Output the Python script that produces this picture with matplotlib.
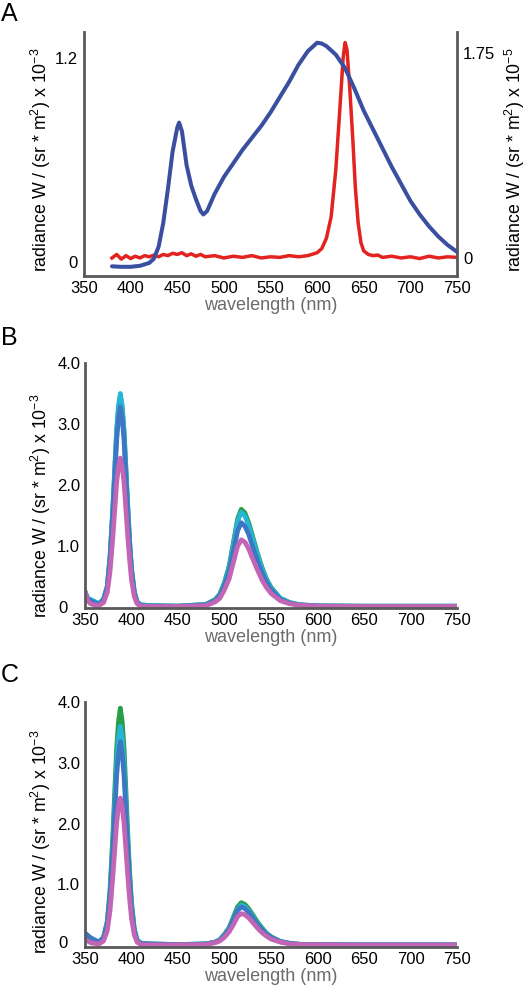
import matplotlib
matplotlib.use("Agg")
import matplotlib.pyplot as plt
from matplotlib.transforms import ScaledTranslation

plt.rcParams['font.family'] = ['Liberation Sans', 'DejaVu Sans']
plt.rcParams['mathtext.default'] = 'regular'

# ---------------- data ----------------
x_ticks = [350, 400, 450, 500, 550, 600, 650, 700, 750]

# Panel A, blue lamp (left axis, x10^-3)
wl_a_blue = [380, 390, 400, 410, 420, 425, 430, 435, 440, 445, 450, 452, 455, 460, 465, 470, 475,
             478, 482, 490, 500, 510, 520, 530, 540, 550, 560, 570, 580, 590, 600, 605, 610, 620,
             630, 640, 650, 660, 670, 680, 690, 700, 710, 720, 730, 740, 750]
rad_a_blue = [-0.025, -0.028, -0.028, -0.022, -0.005, 0.02, 0.09, 0.23, 0.43, 0.65, 0.79, 0.82, 0.77,
              0.57, 0.45, 0.37, 0.30, 0.28, 0.30, 0.40, 0.50, 0.58, 0.66, 0.73, 0.80, 0.88, 0.97,
              1.06, 1.16, 1.24, 1.29, 1.285, 1.27, 1.22, 1.14, 1.02, 0.89, 0.78, 0.67, 0.56, 0.46,
              0.36, 0.28, 0.21, 0.15, 0.10, 0.06]

# Panel A, red lamp (right axis, x10^-5)
wl_a_red = [380, 385, 390, 395, 400, 405, 410, 415, 420, 425, 430, 435, 440, 445, 450, 455, 460,
            465, 470, 475, 480, 490, 500, 510, 520, 530, 540, 550, 560, 570, 580, 590, 600, 605,
            610, 615, 620, 625, 628, 630, 632, 635, 638, 641, 644, 647, 650, 655, 660, 665, 670,
            680, 690, 700, 710, 720, 730, 740, 750]
rad_a_red = [0.0, 0.03, -0.01, 0.02, -0.005, 0.015, 0.0, 0.02, 0.01, 0.025, 0.01, 0.03, 0.02, 0.04,
             0.03, 0.045, 0.02, 0.035, 0.015, 0.03, 0.01, 0.02, 0.0, 0.015, 0.005, 0.02, 0.0, 0.01,
             0.005, 0.02, 0.01, 0.02, 0.045, 0.08, 0.17, 0.35, 0.75, 1.35, 1.72, 1.84, 1.78, 1.45,
             1.05, 0.60, 0.30, 0.13, 0.06, 0.03, 0.02, 0.025, 0.005, 0.015, 0.0, 0.01, -0.005,
             0.015, 0.0, 0.01, 0.005]

# Panels B and C share wavelength grid
wl_bc = [350, 353, 356, 360, 365, 370, 374, 377, 380, 382, 384, 386, 388, 390, 392, 394, 396, 398,
         400, 403, 406, 410, 420, 450, 480, 490, 495, 500, 505, 510, 514, 518, 522, 526, 530, 535,
         540, 545, 550, 560, 570, 580, 600, 650, 700, 750]

b_green = [0.24, 0.13, 0.11, 0.08, 0.05, 0.12, 0.34, 0.83, 1.62, 2.24, 2.86, 3.25, 3.45, 3.25, 2.86,
           2.24, 1.62, 1.07, 0.62, 0.24, 0.08, 0.03, 0.02, 0.01, 0.04, 0.12, 0.21, 0.40, 0.67, 1.09,
           1.44, 1.60, 1.54, 1.38, 1.17, 0.90, 0.66, 0.46, 0.32, 0.14, 0.07, 0.035, 0.015, 0.01,
           0.01, 0.01]
b_cyan = [0.25, 0.14, 0.12, 0.09, 0.05, 0.13, 0.34, 0.84, 1.65, 2.28, 2.90, 3.30, 3.50, 3.30, 2.90,
          2.28, 1.65, 1.08, 0.63, 0.25, 0.08, 0.03, 0.02, 0.01, 0.04, 0.11, 0.20, 0.39, 0.65, 1.05,
          1.40, 1.55, 1.49, 1.33, 1.13, 0.87, 0.64, 0.45, 0.31, 0.14, 0.07, 0.035, 0.015, 0.01,
          0.01, 0.01]
b_blue = [0.22, 0.12, 0.10, 0.07, 0.04, 0.11, 0.32, 0.79, 1.54, 2.13, 2.72, 3.10, 3.28, 3.10, 2.72,
          2.13, 1.54, 1.00, 0.59, 0.23, 0.07, 0.02, 0.01, 0.01, 0.03, 0.10, 0.18, 0.35, 0.58, 0.94,
          1.24, 1.38, 1.32, 1.19, 1.00, 0.77, 0.57, 0.40, 0.28, 0.12, 0.06, 0.03, 0.012, 0.008,
          0.008, 0.008]
b_pink = [0.25, 0.10, 0.05, 0.03, 0.02, 0.07, 0.24, 0.59, 1.15, 1.59, 2.03, 2.30, 2.44, 2.30, 2.03,
          1.59, 1.15, 0.76, 0.44, 0.17, 0.05, 0.01, 0.005, 0.005, 0.02, 0.08, 0.14, 0.28, 0.46,
          0.75, 0.99, 1.10, 1.06, 0.95, 0.80, 0.62, 0.45, 0.32, 0.22, 0.10, 0.05, 0.025, 0.01,
          0.005, 0.005, 0.005]

c_green = [0.18, 0.15, 0.12, 0.08, 0.05, 0.13, 0.40, 0.94, 1.83, 2.54, 3.24, 3.68, 3.90, 3.68, 3.24,
           2.54, 1.83, 1.21, 0.71, 0.27, 0.09, 0.03, 0.02, 0.01, 0.02, 0.05, 0.09, 0.18, 0.29, 0.48,
           0.63, 0.70, 0.67, 0.60, 0.51, 0.39, 0.29, 0.20, 0.14, 0.06, 0.03, 0.015, 0.008, 0.005,
           0.005, 0.005]
c_cyan = [0.19, 0.15, 0.12, 0.08, 0.05, 0.13, 0.37, 0.86, 1.69, 2.34, 2.99, 3.40, 3.60, 3.40, 2.99,
          2.34, 1.69, 1.12, 0.65, 0.25, 0.08, 0.03, 0.02, 0.01, 0.02, 0.05, 0.09, 0.17, 0.28, 0.45,
          0.59, 0.66, 0.63, 0.57, 0.48, 0.37, 0.27, 0.19, 0.13, 0.06, 0.03, 0.015, 0.008, 0.005,
          0.005, 0.005]
c_blue = [0.20, 0.16, 0.12, 0.09, 0.05, 0.12, 0.34, 0.80, 1.57, 2.18, 2.78, 3.16, 3.35, 3.16, 2.78,
          2.18, 1.57, 1.04, 0.60, 0.23, 0.07, 0.03, 0.02, 0.01, 0.02, 0.05, 0.08, 0.16, 0.26, 0.43,
          0.57, 0.63, 0.60, 0.54, 0.46, 0.35, 0.26, 0.18, 0.13, 0.06, 0.03, 0.015, 0.008, 0.005,
          0.005, 0.005]
c_pink = [0.10, 0.07, 0.04, 0.03, 0.02, 0.07, 0.24, 0.58, 1.14, 1.57, 2.00, 2.28, 2.42, 2.28, 2.00,
          1.57, 1.14, 0.75, 0.44, 0.17, 0.05, 0.01, 0.005, 0.005, 0.01, 0.04, 0.07, 0.13, 0.22,
          0.35, 0.47, 0.52, 0.50, 0.45, 0.38, 0.29, 0.21, 0.15, 0.10, 0.05, 0.02, 0.01, 0.005,
          0.003, 0.003, 0.003]

bc_yticks = [0, 1, 2, 3, 4]
bc_yticklabels = ['0', '1.0', '2.0', '3.0', '4.0']

# ---------------- style ----------------
W, H = 528, 990
fig = plt.figure(figsize=(W / 100, H / 100), dpi=100)

SPINE = '#595959'
XLAB = '#6b6b6b'
FS = 12
YFS = 12.8
ylab3 = r'radiance W / (sr * m$^{2}$) x 10$^{-3}$'
ylab5 = r'radiance W / (sr * m$^{2}$) x 10$^{-5}$'

def box(l, t, r, b):
    return [l / W, 1 - b / H, (r - l) / W, (b - t) / H]

def style(ax, ypad):
    for s in ['top', 'right']:
        ax.spines[s].set_visible(False)
    for s in ['left', 'bottom']:
        ax.spines[s].set_color(SPINE)
        ax.spines[s].set_linewidth(2.0)
    ax.tick_params(axis='x', length=0, labelsize=FS, pad=3.5)
    ax.tick_params(axis='y', length=0, labelsize=FS, pad=ypad)
    ax.set_xlim(350, 750)
    ax.set_xticks(x_ticks)
    ax.set_xlabel('wavelength (nm)', color=XLAB, fontsize=13, labelpad=1)
    ax.set_facecolor('none')

# ---------- Panel A ----------
axA = fig.add_axes(box(84, 32, 457, 276))
style(axA, 4.5)
axA.plot(wl_a_blue, rad_a_blue, color='#3b4fa0', lw=2.9, solid_capstyle='round')
axA.set_ylim(-0.082, 1.353)
axA.set_yticks([0, 1.2])
axA.set_yticklabels(['0', '1.2'])
axA.set_ylabel(ylab3, fontsize=YFS)

axA2 = axA.twinx()
for s in ['top', 'left', 'bottom']:
    axA2.spines[s].set_visible(False)
axA2.spines['right'].set_color(SPINE)
axA2.spines['right'].set_linewidth(2.0)
axA2.plot(wl_a_red, rad_a_red, color='#e3231f', lw=2.5)
axA2.set_ylim(-0.154, 1.93)
axA2.set_yticks([0, 1.75])
axA2.set_yticklabels(['0', '1.75'])
axA2.tick_params(length=0, labelsize=FS, pad=4.5)
axA2.set_ylabel(ylab5, fontsize=YFS)
axA2.yaxis.set_label_coords(1 + 46 / 373, 0.475)
axA.set_zorder(axA2.get_zorder() + 1)

# ---------- Panels B, C ----------
cols = {'green': '#2a9d48', 'cyan': '#27b5d6', 'blue': '#3d77c4', 'pink': '#c265b4'}

axB = fig.add_axes(box(85, 363, 457, 608))
style(axB, 3.5)
for ys, c in [(b_green, 'green'), (b_cyan, 'cyan'), (b_blue, 'blue'), (b_pink, 'pink')]:
    axB.plot(wl_bc, ys, color=cols[c], lw=3.4)
axB.set_ylim(-0.02, 4.0)
axB.set_yticks(bc_yticks)
axB.set_yticklabels(bc_yticklabels)
axB.set_ylabel(ylab3, fontsize=YFS)

axC = fig.add_axes(box(85, 702, 457, 947))
style(axC, 3.5)
for ys, c in [(c_green, 'green'), (c_cyan, 'cyan'), (c_blue, 'blue'), (c_pink, 'pink')]:
    axC.plot(wl_bc, ys, color=cols[c], lw=3.4)
axC.set_ylim(-0.03, 4.0)
axC.set_yticks(bc_yticks)
axC.set_yticklabels(bc_yticklabels)
axC.set_ylabel(ylab3, fontsize=YFS)

# the "0" labels of B and C sit further left in the reference
for ax, dy in ((axB, 0), (axC, 3)):
    lab = ax.get_yticklabels()[0]
    lab.set_transform(lab.get_transform() + ScaledTranslation(-13 / 100, dy / 100, fig.dpi_scale_trans))

axA.yaxis.set_label_coords(-31 / 373, 0.475)
axB.yaxis.set_label_coords(-32 / 372, 0.418)
axC.yaxis.set_label_coords(-32 / 372, 0.429)

fig.text(1 / W, 1 - 14 / H, 'A', fontsize=18, va='center', ha='left')
fig.text(1 / W, 1 - 338 / H, 'B', fontsize=18, va='center', ha='left')
fig.text(1 / W, 1 - 675 / H, 'C', fontsize=18, va='center', ha='left')

fig.savefig('out.png', dpi=100, facecolor='white')
